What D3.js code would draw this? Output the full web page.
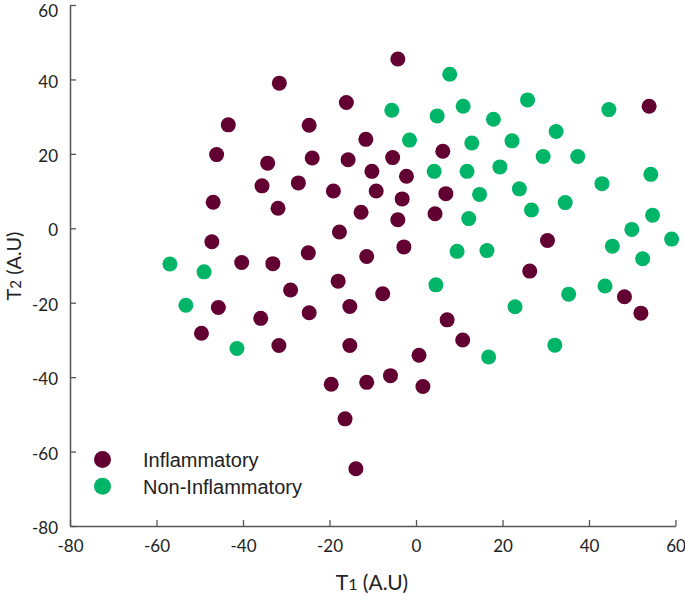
<!DOCTYPE html>
<html>
<head>
<meta charset="utf-8">
<script src="https://cdn.jsdelivr.net/npm/d3@7"></script>
<style>
  html, body { margin: 0; padding: 0; background: #fff; }
  svg { display: block; }
</style>
</head>
<body>
<svg id="chart" width="685" height="597"></svg>
<script>
// ---- Data ----
const seriesNames = ["Inflammatory", "Non-Inflammatory"];
const seriesColors = ["#630032", "#00b468"];
const xTicks = [-80, -60, -40, -20, 0, 20, 40, 60];
const yTicks = [-80, -60, -40, -20, 0, 20, 40, 60];

const inflammatoryX = [-31.6, -43.4, -24.7, -46.1, -34.3, -24.0, -35.6, -27.2, -46.9, -31.9,
  -47.2, -24.9, -40.3, -33.1, -29.0, -45.7, -24.7, -35.9, -49.6, -31.7,
  -4.2, -16.1, -11.6, 6.2, -15.7, -5.4, -10.2, -2.2, -19.1, -9.2,
  -3.2, 6.9, -12.7, -4.2, 4.4, -17.7, -11.4, -2.8, -18.0, -7.7,
  -15.3, 7.2, 10.8, -15.3, 0.7, -19.6, -11.4, -5.9, 1.6, -16.4,
  -13.9, 53.9, 30.4, 26.3, 48.2, 52.0];
const inflammatoryY = [39.0, 27.8, 27.7, 19.8, 17.5, 18.9, 11.4, 12.2, 7.0, 5.4,
  -3.6, -6.6, -9.2, -9.5, -16.6, -21.3, -22.7, -24.2, -28.2, -31.5,
  45.5, 33.8, 23.9, 20.7, 18.4, 19.0, 15.3, 14.0, 10.0, 10.0,
  7.9, 9.3, 4.3, 2.3, 3.9, -1.0, -7.6, -5.0, -14.2, -17.6,
  -21.0, -24.6, -30.0, -31.5, -34.1, -41.9, -41.4, -39.6, -42.5, -51.2,
  -64.6, 32.8, -3.3, -11.5, -18.4, -22.8];

const nonInflammatoryX = [-56.9, -49.0, -53.2, -41.4, 7.8, -5.6, 4.9, 10.9, 17.9, -1.5,
  12.9, 4.2, 11.8, 19.4, 14.7, 12.2, 9.5, 16.4, 4.6, 16.8,
  25.8, 44.6, 32.4, 22.2, 29.4, 37.4, 54.3, 43.0, 23.9, 34.5,
  26.7, 54.7, 49.9, 59.1, 45.4, 52.4, 43.7, 35.3, 22.9, 32.1];
const nonInflammatoryY = [-9.6, -11.7, -20.7, -32.3, 41.4, 31.7, 30.2, 32.8, 29.3, 23.7,
  22.9, 15.3, 15.3, 16.5, 9.1, 2.6, -6.2, -6.0, -15.2, -34.6,
  34.5, 31.9, 26.0, 23.5, 19.3, 19.3, 14.5, 12.0, 10.6, 6.9,
  4.9, 3.5, -0.3, -2.9, -4.8, -8.2, -15.5, -17.7, -21.1, -31.4];

// ---- Layout ----
const svg = d3.select("#chart");
const x = d3.scaleLinear().domain([-80, 60]).range([70, 675.5]);
const y = d3.scaleLinear().domain([-80, 60]).range([526, 5]);
const axisColor = "#555";
const textColor = "#222";
const tickFont = "Lato, 'Open Sans', sans-serif";
const fmt = d => String(d);

// X axis
const xAxis = svg.append("g").attr("transform", `translate(0,${y(-80)})`)
  .call(d3.axisBottom(x).tickValues(xTicks).tickSizeInner(-6).tickSizeOuter(0).tickPadding(14).tickFormat(fmt));
xAxis.select(".domain").attr("stroke", axisColor).attr("stroke-width", 1.5);
xAxis.selectAll(".tick line").attr("stroke", axisColor).attr("stroke-width", 1.3);
xAxis.selectAll(".tick text").attr("fill", textColor).style("font-family", tickFont).style("font-size", "17px");

// Y axis
const yAxis = svg.append("g").attr("transform", `translate(${x(-80)},0)`)
  .call(d3.axisLeft(y).tickValues(yTicks).tickSizeInner(-6).tickSizeOuter(0).tickPadding(12).tickFormat(fmt));
yAxis.select(".domain").attr("stroke", axisColor).attr("stroke-width", 1.5);
yAxis.selectAll(".tick line").attr("stroke", axisColor).attr("stroke-width", 1.3);
yAxis.selectAll(".tick text").attr("fill", textColor)
  .attr("dy", d => d === yTicks[yTicks.length - 1] ? "0.68em" : "0.45em")
  .style("font-family", tickFont).style("font-size", "17px");

// Axis titles
const xt = svg.append("text").attr("x", 372).attr("y", 590).attr("text-anchor", "middle")
  .attr("fill", textColor).style("font-family", tickFont).style("font-size", "21px");
xt.append("tspan").text("T");
xt.append("tspan").style("font-size", "16px").text("1");
xt.append("tspan").text(" (A.U)");

const yt = svg.append("text").attr("transform", "translate(21,266) rotate(-90)").attr("text-anchor", "middle")
  .attr("fill", textColor).style("font-family", tickFont).style("font-size", "20px");
yt.append("tspan").text("T");
yt.append("tspan").style("font-size", "15px").text("2");
yt.append("tspan").text(" (A.U)");

// Points
const seriesData = [
  inflammatoryX.map((v, i) => [v, inflammatoryY[i]]),
  nonInflammatoryX.map((v, i) => [v, nonInflammatoryY[i]])
];
seriesData.forEach((pts, si) => {
  svg.append("g").selectAll("circle").data(pts).enter().append("circle")
    .attr("cx", d => x(d[0])).attr("cy", d => y(d[1])).attr("r", 7.5)
    .attr("fill", seriesColors[si]);
});

// Legend
const legend = svg.append("g");
seriesNames.forEach((name, i) => {
  const cy = 459.5 + i * 26.8;
  legend.append("circle").attr("cx", 102.5).attr("cy", cy).attr("r", 8.5).attr("fill", seriesColors[i]);
  legend.append("text").attr("x", 143).attr("y", cy + 7.3).attr("fill", textColor)
    .style("font-family", "'Liberation Sans', Arial, sans-serif").style("font-size", "20px").text(name);
});
</script>
</body>
</html>
